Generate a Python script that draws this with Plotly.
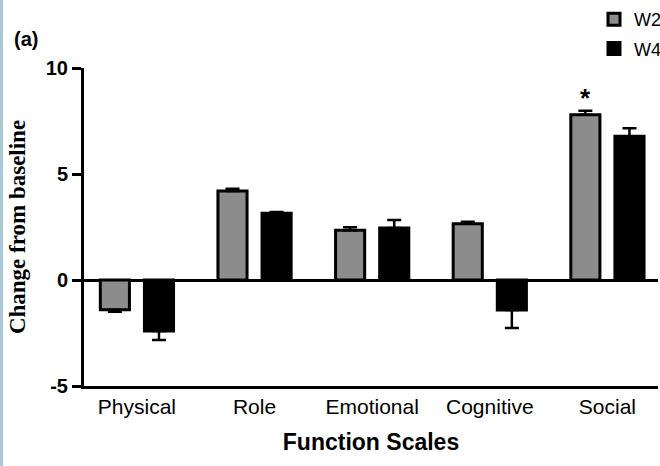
import plotly.graph_objects as go

categories = ["Physical", "Role", "Emotional", "Cognitive", "Social"]
w2_values = [-1.4, 4.2, 2.35, 2.65, 7.8]
w2_errors = [0.1, 0.1, 0.14, 0.1, 0.18]
w4_values = [-2.4, 3.15, 2.45, -1.42, 6.78]
w4_errors = [0.43, 0.06, 0.38, 0.85, 0.38]
y_ticks = [-5, 0, 5, 10]
y_tick_labels = ["-5", "0", "5", "10"]
significance = {"Social": "*"}

W, H = 660, 466
ML, MR, MT, MB = 84, 2, 68, 80
PW = W - ML - MR
PH = H - MT - MB
XR = [-0.45, 4.43]
BARGAP = 0.25
BARGROUPGAP = 0.34


def up(vals, errs):
    return [e if v >= 0 else 0 for v, e in zip(vals, errs)]


def down(vals, errs):
    return [e if v < 0 else 0 for v, e in zip(vals, errs)]


fig = go.Figure()
fig.add_trace(go.Bar(
    name="W2", x=categories, y=w2_values,
    marker=dict(color="#8c8c8c", line=dict(color="black", width=3)),
    error_y=dict(type="data", symmetric=False, array=up(w2_values, w2_errors),
                 arrayminus=down(w2_values, w2_errors),
                 color="black", thickness=2.5, width=7),
    legendgroup="a",
))
fig.add_trace(go.Bar(
    name="W4", x=categories, y=w4_values,
    marker=dict(color="black", line=dict(color="black", width=3)),
    error_y=dict(type="data", symmetric=False, array=up(w4_values, w4_errors),
                 arrayminus=down(w4_values, w4_errors),
                 color="black", thickness=2.5, width=7),
    legendgroup="b",
))

# star above W2 bar in significant group
px_per_cat = PW / (XR[1] - XR[0])
slot = px_per_cat * (1 - BARGAP) / 2
for cat, txt in significance.items():
    i = categories.index(cat)
    fig.add_annotation(x=cat, y=w2_values[i] + w2_errors[i], text="<b>" + txt + "</b>",
                       showarrow=False, xref="x", yref="y", yanchor="bottom",
                       xshift=-slot / 2, yshift=-4,
                       font=dict(family="Liberation Sans", size=26, color="black"))

fig.add_annotation(x=-(ML - 12) / PW, y=1 + 29 / PH, xref="paper", yref="paper",
                   text="<b>(a)</b>", showarrow=False, xanchor="left", yanchor="middle",
                   font=dict(family="Liberation Sans", size=20, color="black"))

fig.add_shape(type="rect", xref="paper", yref="paper",
              x0=-ML / PW, x1=-(ML - 3) / PW, y0=-MB / PH, y1=1 + MT / PH,
              fillcolor="#a9c9d6", line=dict(width=0), layer="below")

fig.update_layout(
    width=W, height=H,
    margin=dict(l=ML, r=MR, t=MT, b=MB, autoexpand=False),
    paper_bgcolor="white", plot_bgcolor="white",
    barmode="group", bargap=BARGAP, bargroupgap=BARGROUPGAP,
    showlegend=True,
    legend=dict(xref="container", yref="container",
                x=594 / W, y=1 - 1 / H, xanchor="left", yanchor="top",
                font=dict(family="Liberation Sans", size=18, color="black"),
                tracegroupgap=3, bgcolor="rgba(0,0,0,0)"),
    xaxis=dict(range=XR, showline=True, linecolor="black", linewidth=3,
               ticks="", showgrid=False, zeroline=False, automargin=False,
               tickfont=dict(family="Liberation Sans", size=21, color="black"),
               title=dict(text="<b>Function Scales</b>", standoff=17,
                          font=dict(family="Liberation Sans", size=23, color="black"))),
    yaxis=dict(range=[-5, 10], tickvals=y_ticks, ticktext=y_tick_labels,
               showline=True, linecolor="black", automargin=False,
               linewidth=3, ticks="outside", ticklen=9, tickwidth=3, tickcolor="black",
               showgrid=False, zeroline=True, zerolinecolor="black", zerolinewidth=3,
               tickfont=dict(family="Liberation Sans", size=20, color="black", weight="bold"),
               title=dict(text="<b>Change from baseline</b>", standoff=14,
                          font=dict(family="Liberation Serif", size=23, color="black"))),
)

fig.write_html("out.html", config={"displayModeBar": False},
               post_script="document.body.style.margin='0';")
